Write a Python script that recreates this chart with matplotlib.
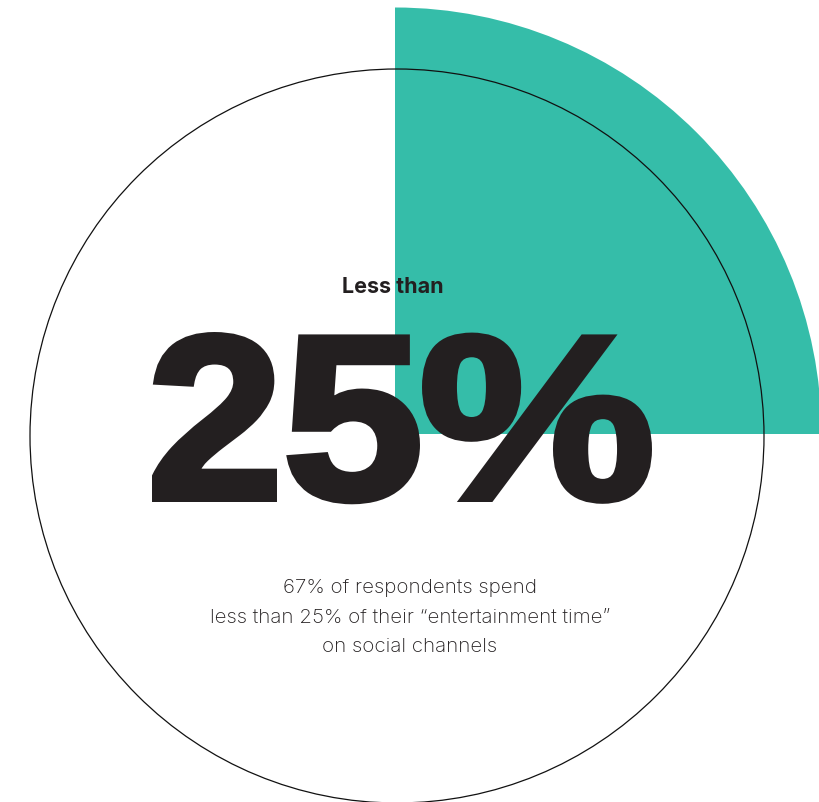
import matplotlib
matplotlib.use("Agg")
import matplotlib.pyplot as plt
from matplotlib.patches import Wedge, Circle, PathPatch
from matplotlib.textpath import TextPath
from matplotlib.font_manager import FontProperties
from matplotlib.transforms import Affine2D

# Values
share_pct = 25
respondents_pct = 67
headline_prefix = "Less than"
headline = f"{share_pct}%"
caption_lines = [
    f"{respondents_pct}% of respondents spend",
    f"less than {share_pct}% of their \u201centertainment time\u201d",
    "on social channels",
]

TEAL = "#35BDA9"
INK = "#231F20"

W, H = 819, 802
fig = plt.figure(figsize=(W / 100, H / 100), dpi=100)
ax = fig.add_axes([0, 0, 1, 1])
ax.set_xlim(0, W)
ax.set_ylim(0, H)
ax.set_aspect("equal")
ax.axis("off")

# Quarter wedge showing the share
ax.add_patch(Wedge((395, 368), 426.5, 0, 360 * share_pct / 100,
                   facecolor=TEAL, edgecolor="none", zorder=1))
# Full circle outline
ax.add_patch(Circle((397, 366), 367, facecolor="none", edgecolor="#111111",
                    linewidth=0.9, zorder=2))

ax.text(393, H - 293, headline_prefix, ha="center", va="baseline",
        fontsize=15.5, fontweight="bold", family="Inter", color=INK, zorder=3)

# Big figure: heavy grotesk glyph outlines, each set into its own column
# and thickened with a matching stroke
stroke_px = 7.0
half = stroke_px / 2
base_y, cap_y = H - 502, H - 332
glyph_cols = [(152, 277), (287, 420), (422, 652)]
prop = FontProperties(family="Liberation Sans", weight="bold")
cap_ref = TextPath((0, 0), headline[0], size=100, prop=prop).get_extents().y1
sy = (cap_y - base_y - stroke_px) / cap_ref
for ch, (x0, x1) in zip(headline, glyph_cols):
    tp = TextPath((0, 0), ch, size=100, prop=prop)
    ext = tp.get_extents()
    sx = (x1 - x0 - stroke_px) / ext.width
    tr = (Affine2D().translate(-ext.x0, 0).scale(sx, sy)
          .translate(x0 + half, base_y + half))
    ax.add_patch(PathPatch(tr.transform_path(tp), facecolor=INK, edgecolor=INK,
                           linewidth=stroke_px * 0.72, joinstyle="miter",
                           zorder=3))

y0 = H - 593
for i, line in enumerate(caption_lines):
    ax.text(410, y0 - i * 29.5, line, ha="center", va="baseline",
            fontsize=14.8, fontweight="light", family="Inter", color=INK, zorder=3)

fig.savefig("out.png", dpi=100)
